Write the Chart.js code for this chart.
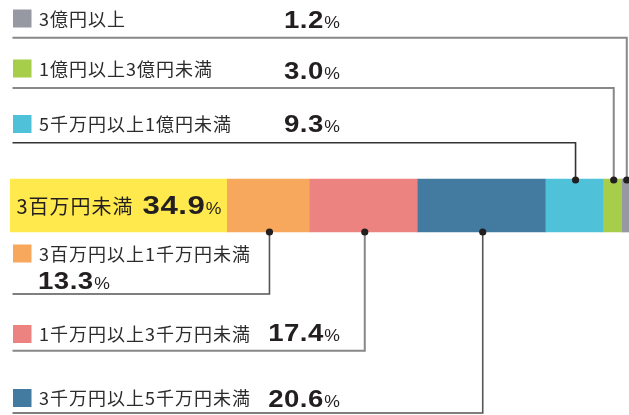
<!DOCTYPE html>
<html>
<head>
<meta charset="utf-8">
<script src="https://cdn.jsdelivr.net/npm/chart.js@4"></script>
<style>
html,body{margin:0;padding:0;background:#fff;}
#c{display:block;}
</style>
</head>
<body>
<canvas id="c" width="629" height="415"></canvas>
<script>
// ---- data ----
const categories = ['資本金'];
const labels = ['3百万円未満','3百万円以上1千万円未満','1千万円以上3千万円未満','3千万円以上5千万円未満','5千万円以上1億円未満','1億円以上3億円未満','3億円以上'];
const values = [34.9, 13.3, 17.4, 20.6, 9.3, 3.0, 1.2];
const colors = ['#FFE94C','#F8A85C','#EC8381','#427B9F','#4FC2DA','#A6CE4B','#9698A2'];
const total = values.reduce((a,b)=>a+b,0);

// ---- callout layout (positions / styles only) ----
const callouts = [
  null,
  {side:'below', row:253.5, lineY:294,   valueMode:'nextline', valX:38, valBase:288.5, line:'#555', lw:1.6},
  {side:'below', row:334,   lineY:350.7, valueMode:'right',    valX:340, valBase:341, line:'#888', lw:2},
  {side:'below', row:398,   lineY:413,   valueMode:'right',    valX:340, valBase:406.5, line:'#555', lw:1.6},
  {side:'above', row:124,   lineY:142.7, valueMode:'right',    valX:340, valBase:132, line:'#333', lw:1.6},
  {side:'above', row:68.5,  lineY:88,    valueMode:'right',    valX:340, valBase:79, line:'#888', lw:2},
  {side:'above', row:18.5,  lineY:37.7,  valueMode:'right',    valX:340, valBase:28, line:'#888', lw:2}
];

const CJK = '"Noto Sans CJK JP", "Noto Sans CJK SC", sans-serif';
const NUM = '"Liberation Sans", Arial, sans-serif';

function spacedWidth(ctx, text, spacing, hs){
  let w = 0;
  for (const ch of text) w += ctx.measureText(ch).width * hs + spacing;
  return w - spacing;
}
function drawSpaced(ctx, text, x, y, spacing, hs){
  let cx = x;
  for (const ch of text){
    ctx.save();
    ctx.translate(cx, y);
    ctx.scale(hs, 1);
    ctx.fillText(ch, 0, 0);
    ctx.restore();
    cx += ctx.measureText(ch).width * hs + spacing;
  }
  return cx - spacing - x;
}
function drawValue(ctx, v, x, base, size, align){
  const num = v.toFixed(1);
  ctx.textBaseline = 'alphabetic';
  ctx.textAlign = 'left';
  ctx.fillStyle = '#231f20';
  ctx.font = 'bold ' + size + 'px ' + NUM;
  const wn = spacedWidth(ctx, num, 0.5, 1.2);
  ctx.font = '16px ' + NUM;
  const wp = ctx.measureText('%').width * 1.1;
  const gap = 1;
  let sx = align === 'right' ? x - (wn + gap + wp) : x;
  ctx.font = 'bold ' + size + 'px ' + NUM;
  drawSpaced(ctx, num, sx, base, 0.5, 1.2);
  ctx.font = '16px ' + NUM;
  ctx.save();
  ctx.translate(sx + wn + gap, base);
  ctx.scale(1.1, 1);
  ctx.fillText('%', 0, 0);
  ctx.restore();
}

const calloutPlugin = {
  id: 'callouts',
  afterDatasetsDraw(chart){
    const ctx = chart.ctx;
    ctx.save();
    // inside label for first segment
    const m0 = chart.getDatasetMeta(0).data[0];
    ctx.fillStyle = '#231f20';
    ctx.textBaseline = 'alphabetic';
    ctx.textAlign = 'left';
    ctx.font = '20px ' + CJK;
    const lw0 = drawSpaced(ctx, labels[0], m0.base + 6.5, m0.y + 8, 1, 1);
    drawValue(ctx, values[0], m0.base + 6.5 + lw0 + 10, m0.y + 8, 26, 'left');

    for (let i = 1; i < values.length; i++){
      const c = callouts[i];
      const el = chart.getDatasetMeta(i).data[0];
      const cx = (el.x + el.base) / 2 + 1.5;
      const top = el.y - el.height / 2;
      const bot = el.y + el.height / 2;
      const dy = c.side === 'above' ? top + 1 : bot;
      // leader line
      ctx.strokeStyle = c.line;
      ctx.lineWidth = c.lw;
      ctx.beginPath();
      ctx.moveTo(cx, dy);
      ctx.lineTo(cx, c.lineY);
      ctx.lineTo(12.5, c.lineY);
      ctx.stroke();
      // dot
      ctx.fillStyle = '#231f20';
      ctx.beginPath();
      ctx.arc(cx, dy, 3.6, 0, Math.PI * 2);
      ctx.fill();
      // square
      ctx.fillStyle = colors[i];
      ctx.fillRect(13, c.row - 9, 18.5, 18);
      // label
      ctx.fillStyle = '#2b2b2b';
      ctx.font = '18px ' + CJK;
      ctx.textBaseline = 'alphabetic';
      drawSpaced(ctx, labels[i], 39, c.row + 7, 1, 1);
      // value
      drawValue(ctx, values[i], c.valX, c.valBase, 23, c.valueMode === 'right' ? 'right' : 'left');
    }
    ctx.restore();
  }
};

new Chart(document.getElementById('c'), {
  type: 'bar',
  data: {
    labels: categories,
    datasets: values.map((v, i) => ({
      label: labels[i],
      data: [v],
      backgroundColor: colors[i],
      borderWidth: 0,
      barThickness: 53,
      stack: 's'
    }))
  },
  options: {
    indexAxis: 'y',
    responsive: false,
    animation: false,
    layout: {padding: {left: 10, right: 0, top: 0, bottom: 4}},
    plugins: {legend: {display: false}, tooltip: {enabled: false}},
    scales: {
      x: {stacked: true, min: 0, max: total, display: false},
      y: {stacked: true, display: false}
    }
  },
  plugins: [calloutPlugin]
});
</script>
</body>
</html>
